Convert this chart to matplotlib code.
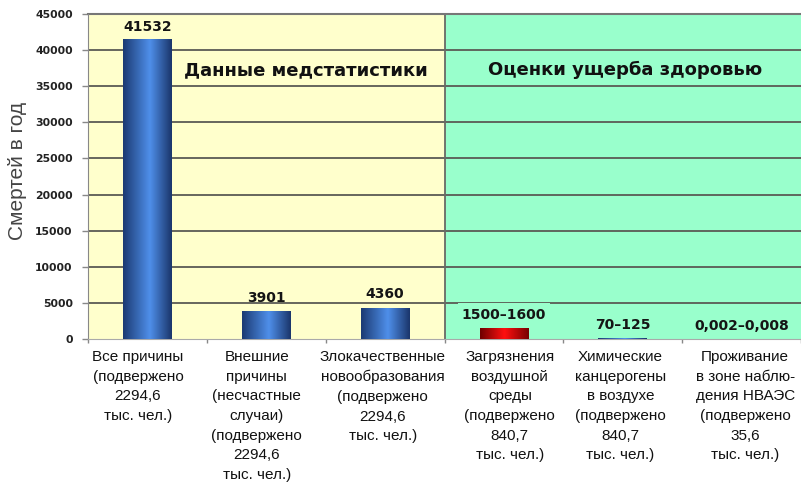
import matplotlib.pyplot as plt
import numpy as np
from matplotlib.colors import LinearSegmentedColormap

# categories: three from medical statistics, three from health-damage estimates
categories = [
    "Все причины\n(подвержено\n2294,6\nтыс. чел.)",
    "Внешние\nпричины\n(несчастные\nслучаи)\n(подвержено\n2294,6\nтыс. чел.)",
    "Злокачественные\nновообразования\n(подвержено\n2294,6\nтыс. чел.)",
    "Загрязнения\nвоздушной\nсреды\n(подвержено\n840,7\nтыс. чел.)",
    "Химические\nканцерогены\nв воздухе\n(подвержено\n840,7\nтыс. чел.)",
    "Проживание\nв зоне наблю-\nдения НВАЭС\n(подвержено\n35,6\nтыс. чел.)",
]
deaths = [41532, 3901, 4360, 1550, 97.5, 0.005]
value_labels = ["41532", "3901", "4360", "1500–1600", "70–125", "0,002–0,008"]
bar_kind = ["blue", "blue", "blue", "red", "blue", "blue"]
# small horizontal nudges of the category captions (in category units)
label_nudge = [-0.08, -0.08, -0.02, 0.05, -0.02, 0.03]

YELLOW = "#FFFFCC"
GREEN = "#99FFCC"
GRID = "#5a5a55"

cmaps = {
    "blue": LinearSegmentedColormap.from_list(
        "cyl_blue", [(0.0, "#1b3a72"), (0.55, "#4f8fea"), (1.0, "#1a356a")]
    ),
    "red": LinearSegmentedColormap.from_list(
        "cyl_red", [(0.0, "#6e0000"), (0.5, "#ff1010"), (1.0, "#760000")]
    ),
}

fig = plt.figure(figsize=(8.01, 4.97), dpi=100)
ax = fig.add_axes([88 / 801, 1 - 339 / 497, 713 / 801, 325 / 497])

n = len(categories)
x = np.arange(n)
ax.set_xlim(-0.5, n - 0.5)
ax.set_ylim(0, 45000)

# background panels
ax.axvspan(-0.5, 2.5, color=YELLOW, zorder=0)
ax.axvspan(2.5, n - 0.5, color=GREEN, zorder=0)
ax.set_yticks(np.arange(0, 45001, 5000))
for yv in np.arange(5000, 45001, 5000):
    ax.axhline(yv, color=GRID, lw=1.3, zorder=1)
ax.axvline(2.5, color="#6a6a66", lw=1.3, zorder=1)

bars = ax.bar(x, deaths, width=0.41, color="none", zorder=3)
grad = np.linspace(0, 1, 256).reshape(1, -1)
for b, kind in zip(bars, bar_kind):
    x0, y0 = b.get_x(), b.get_y()
    w, h = b.get_width(), b.get_height()
    im = ax.imshow(
        grad,
        cmap=cmaps[kind],
        aspect="auto",
        extent=(x0, x0 + w, y0, y0 + max(h, 1e-9)),
        zorder=3,
        interpolation="bicubic",
    )
    im.set_clip_path(b)
ax.set_xlim(-0.5, n - 0.5)
ax.set_ylim(0, 45000)

for xi, v, lab in zip(x, deaths, value_labels):
    kw = {}
    if lab == "1500–1600":
        kw["bbox"] = dict(facecolor=GREEN, edgecolor="none", pad=3)
    ax.annotate(
        lab,
        (xi, v),
        xytext=(0, 3.5 if v > 40000 else 4.5),
        textcoords="offset points",
        ha="center",
        va="bottom",
        fontsize=10,
        fontweight="bold",
        family="DejaVu Sans",
        color="#151515",
        zorder=5,
        **kw,
    )

ax.text(1.33, 37250, "Данные медстатистики", ha="center", va="center",
        fontsize=13, fontweight="bold", family="DejaVu Sans", color="#111111", zorder=5)
ax.text(4.02, 37250, "Оценки ущерба здоровью", ha="center", va="center",
        fontsize=13, fontweight="bold", family="DejaVu Sans", color="#111111", zorder=5)

# category captions under the axis
ax.set_xticks(np.arange(-0.5, n, 1.0))
ax.set_xticklabels([])
for xi, lab, dx in zip(x, categories, label_nudge):
    ax.text(xi + dx, -1500, lab, ha="center", va="top", fontsize=11,
            family="Liberation Sans", linespacing=1.52, color="#111111")

ax.tick_params(axis="x", length=3, color="#888888", width=1)
ax.tick_params(axis="y", length=4, color="#888888", width=1, pad=7)
for t in ax.get_yticklabels():
    t.set_fontweight("bold")
    t.set_fontsize(7.8)
    t.set_family("DejaVu Sans")
    t.set_color("#222222")

ax.set_ylabel("Смертей в год", fontsize=15, family="Liberation Sans",
              color="#444444")
ax.yaxis.set_label_coords(-0.085, 0.517)

for side in ("top", "right"):
    ax.spines[side].set_visible(False)
ax.spines["left"].set_color("#888888")
ax.spines["bottom"].set_color("#aaaaaa")
ax.axhline(45000, color="#777777", lw=1.5, zorder=2, clip_on=False)

fig.savefig("out.png", dpi=100)
